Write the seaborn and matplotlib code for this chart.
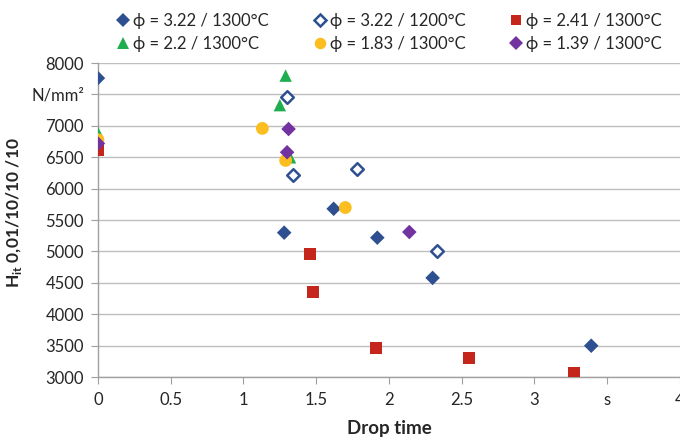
import pandas as pd
import seaborn as sns
import matplotlib.pyplot as plt
from matplotlib.lines import Line2D

# values
labels = ["ϕ = 3.22 / 1300°C", "ϕ = 3.22 / 1200°C", "ϕ = 2.41 / 1300°C",
          "ϕ = 2.2 / 1300°C", "ϕ = 1.83 / 1300°C", "ϕ = 1.39 / 1300°C"]

t_322_1300 = [0.0, 1.28, 1.62, 1.92, 2.30, 3.39]
h_322_1300 = [7760, 5300, 5680, 5220, 4580, 3500]

t_322_1200 = [1.30, 1.34, 1.78, 2.33]
h_322_1200 = [7460, 6220, 6310, 5010]

t_241_1300 = [0.0, 1.46, 1.48, 1.91, 2.55, 3.27]
h_241_1300 = [6610, 4960, 4360, 3470, 3310, 3060]

t_22_1300 = [0.0, 1.29, 1.25, 1.32]
h_22_1300 = [6890, 7800, 7330, 6500]

t_183_1300 = [0.0, 1.13, 1.29, 1.70]
h_183_1300 = [6780, 6960, 6450, 5700]

t_139_1300 = [0.0, 1.31, 1.30, 2.14]
h_139_1300 = [6720, 6950, 6580, 5310]

times = [t_322_1300, t_322_1200, t_241_1300, t_22_1300, t_183_1300, t_139_1300]
hardness = [h_322_1300, h_322_1200, h_241_1300, h_22_1300, h_183_1300, h_139_1300]

colors = ["#2E5090", "#2E5090", "#C5261B", "#1FAE4E", "#FBBE1E", "#7232A0"]
markers = ["D", "D", "s", "^", "o", "D"]
sizes = [55, 55, 75, 80, 85, 55]
hollow = [False, True, False, False, False, False]

sns.set_style("white")
plt.rcParams['font.family'] = ['Lato', 'DejaVu Sans']

fig = plt.figure(figsize=(6.8, 4.38), dpi=100)
ax = fig.add_axes([0.144, 0.139, 0.856, 0.717])

handles = []
for i in range(6):
    df = pd.DataFrame({"t": times[i], "h": hardness[i]})
    if hollow[i]:
        sns.scatterplot(data=df, x="t", y="h", ax=ax, marker=markers[i], s=sizes[i] * 0.75,
                        facecolor="white", edgecolor=colors[i], linewidth=1.8, zorder=3,
                        legend=False)
    else:
        sns.scatterplot(data=df, x="t", y="h", ax=ax, marker=markers[i], s=sizes[i],
                        color=colors[i], edgecolor="none", zorder=3, legend=False)
    ms = (sizes[i] * (0.75 if hollow[i] else 1)) ** 0.5 * 0.9
    handles.append(Line2D([], [], linestyle="none", marker=markers[i], markersize=ms,
                          markerfacecolor="white" if hollow[i] else colors[i],
                          markeredgecolor=colors[i],
                          markeredgewidth=1.8 if hollow[i] else 0))

ax.set_xlim(0, 4)
ax.set_ylim(3000, 8000)
ax.set_xticks([0, 0.5, 1, 1.5, 2, 2.5, 3, 3.5, 4])
ax.set_xticklabels(["0", "0.5", "1", "1.5", "2", "2.5", "3", "s", "4"])
yt = list(range(3000, 8001, 500))
ax.set_yticks(yt)
ax.set_yticklabels([("N/mm²" if v == 7500 else str(v)) for v in yt])

ax.yaxis.grid(True, color="#BEBEBE", linewidth=1)
ax.xaxis.grid(False)
ax.set_axisbelow(True)
for side in ["top", "right"]:
    ax.spines[side].set_visible(False)
for side in ["left", "bottom"]:
    ax.spines[side].set_color("#A0A0A0")
    ax.spines[side].set_linewidth(1)

ax.tick_params(axis="x", direction="out", length=5, color="#A0A0A0", labelsize=12, pad=6)
ax.tick_params(axis="y", direction="out", length=5, color="#A0A0A0", labelsize=12, pad=5)
ax.tick_params(axis="both", which="both", bottom=True, left=True)

ax.set_xlabel("Drop time", fontsize=13.5, fontweight="bold", labelpad=8)
ax.set_ylabel(r"H$_{\mathregular{it}}$ 0,01/10/10 /10", fontsize=12.5, fontweight="bold")
ax.yaxis.set_label_coords(-0.127, 0.525)

order = [0, 3, 1, 4, 2, 5]
fig.legend([handles[k] for k in order], [labels[k] for k in order], ncol=3,
           loc="upper left", bbox_to_anchor=(0.148, 1.005), frameon=False, fontsize=12,
           handletextpad=0.15, columnspacing=2.6, labelspacing=0.45, handlelength=0.9)

fig.savefig("out.png", dpi=100)
